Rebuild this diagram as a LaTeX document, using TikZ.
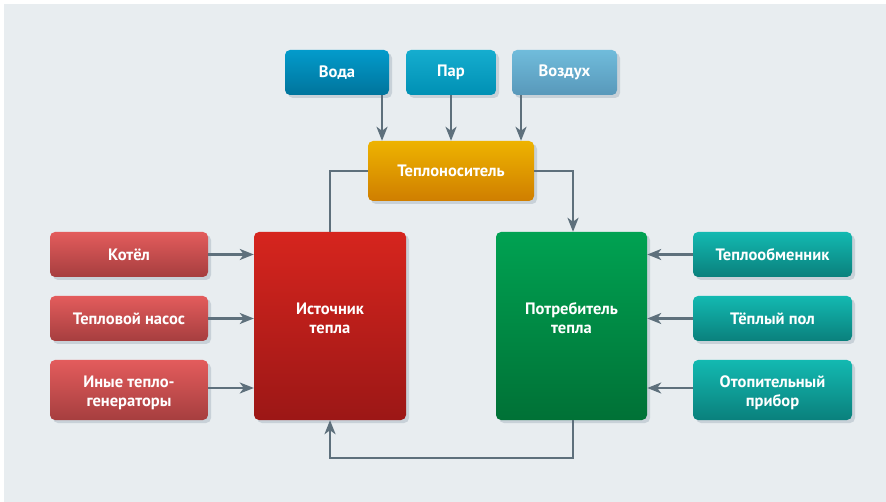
\documentclass[tikz,border=0pt]{standalone}
\usepackage{fontspec}
\setmainfont{PT Sans}
\usetikzlibrary{arrows.meta,shadows}
\definecolor{bgc}{HTML}{E8EDF0}
\definecolor{shadowc}{HTML}{C8D1D8}
\definecolor{arrc}{HTML}{5E707C}
\definecolor{vodaT}{HTML}{039BCB}
\definecolor{vodaB}{HTML}{00749C}
\definecolor{parT}{HTML}{15ADCF}
\definecolor{parB}{HTML}{0090B4}
\definecolor{vozT}{HTML}{70BCDB}
\definecolor{vozB}{HTML}{5898BA}
\definecolor{tnT}{HTML}{EEB300}
\definecolor{tnB}{HTML}{CF7E00}
\definecolor{redT}{HTML}{E35C5C}
\definecolor{redB}{HTML}{A63E3F}
\definecolor{istT}{HTML}{D6251E}
\definecolor{istB}{HTML}{9C1716}
\definecolor{grT}{HTML}{00A252}
\definecolor{grB}{HTML}{007136}
\definecolor{tlT}{HTML}{13B9B1}
\definecolor{tlB}{HTML}{0A807C}
\tikzset{
  boxfont/.style={text=white, align=center, font=\fontsize{16.5}{19}\selectfont\bfseries},
  box/.style={rounded corners=5pt, boxfont, inner sep=0pt,
    drop shadow={shadow xshift=3pt, shadow yshift=-3pt, fill=shadowc, opacity=1}},
  small/.style={box, minimum height=45pt},
  tall/.style={box, minimum height=60pt},
  bigbox/.style={box, minimum height=188pt},
  biglabel/.style={label={[boxfont, yshift=8pt]center:#1}},
  talllabel/.style={label={[boxfont, yshift=-3pt]center:#1}},
  vodabox/.style={small, top color=vodaT, bottom color=vodaB},
  parbox/.style={small, top color=parT, bottom color=parB},
  vozbox/.style={small, top color=vozT, bottom color=vozB},
  tnbox/.style={tall, top color=tnT, bottom color=tnB},
  redbox/.style={top color=redT, bottom color=redB, minimum width=158pt},
  istbox/.style={bigbox, top color=istT, bottom color=istB, minimum width=152pt},
  potrbox/.style={bigbox, top color=grT, bottom color=grB, minimum width=151pt},
  tealbox/.style={top color=tlT, bottom color=tlB, minimum width=159pt},
  link/.style={draw=arrc, line width=2.4pt},
  arr/.style={link, -{Stealth[length=14pt,width=11pt,inset=4pt]}}
}
\begin{document}
\begin{tikzpicture}[x=1pt,y=-1pt]
\useasboundingbox (0,0) rectangle (886,502);
\fill[white] (0,0) rectangle (886,502);
\fill[bgc] (4,4) rectangle (886,502);

\node[vodabox, minimum width=104pt] (voda) at (337,72.5) {Вода};
\node[parbox, minimum width=90pt] (par) at (451,72.5) {Пар};
\node[vozbox, minimum width=105pt] (voz) at (564.5,72.5) {Воздух};
\node[tnbox, minimum width=166pt] (tn) at (451,171) {Теплоноситель};

\node[small, redbox] (kotel) at (129,254.5) {Котёл};
\node[small, redbox] (nasos) at (129,318.5) {Тепловой насос};
\node[tall, redbox, minimum width=158pt, talllabel={Иные тепло-\\генераторы}] (inye) at (129,390) {};
\node[istbox, biglabel={Источник\\тепла}] (ist) at (330,326) {};

\node[potrbox, biglabel={Потребитель\\тепла}] (potr) at (571.5,326) {};
\node[small, tealbox] (teplo) at (772.5,254.5) {Теплообменник};
\node[small, tealbox] (pol) at (772.5,318.5) {Тёплый пол};
\node[tall, tealbox, talllabel={Отопительный\\прибор}] (prib) at (772.5,390) {};

\draw[arr] ([xshift=45pt]voda.south) -- ([xshift=45pt]voda.south |- tn.north);
\draw[arr] (par.south) -- (tn.north);
\draw[arr] ([xshift=-43.5pt]voz.south) -- ([xshift=-43.5pt]voz.south |- tn.north);

\draw[link] (tn.west) -| (ist.north);
\draw[arr] (tn.east) -| ([xshift=1.5pt]potr.north);
\draw[arr] ([xshift=1.5pt]potr.south) -- ++(0,38) -| (ist.south);

\draw[arr] (kotel.east) -- (kotel.east -| ist.west);
\draw[arr] (nasos.east) -- (nasos.east -| ist.west);
\draw[arr] ([yshift=2pt]inye.east) -- ([yshift=2pt]inye.east -| ist.west);

\draw[arr] (teplo.west) -- (teplo.west -| potr.east);
\draw[arr] (pol.west) -- (pol.west -| potr.east);
\draw[arr] ([yshift=2pt]prib.west) -- ([yshift=2pt]prib.west -| potr.east);
\end{tikzpicture}
\end{document}
